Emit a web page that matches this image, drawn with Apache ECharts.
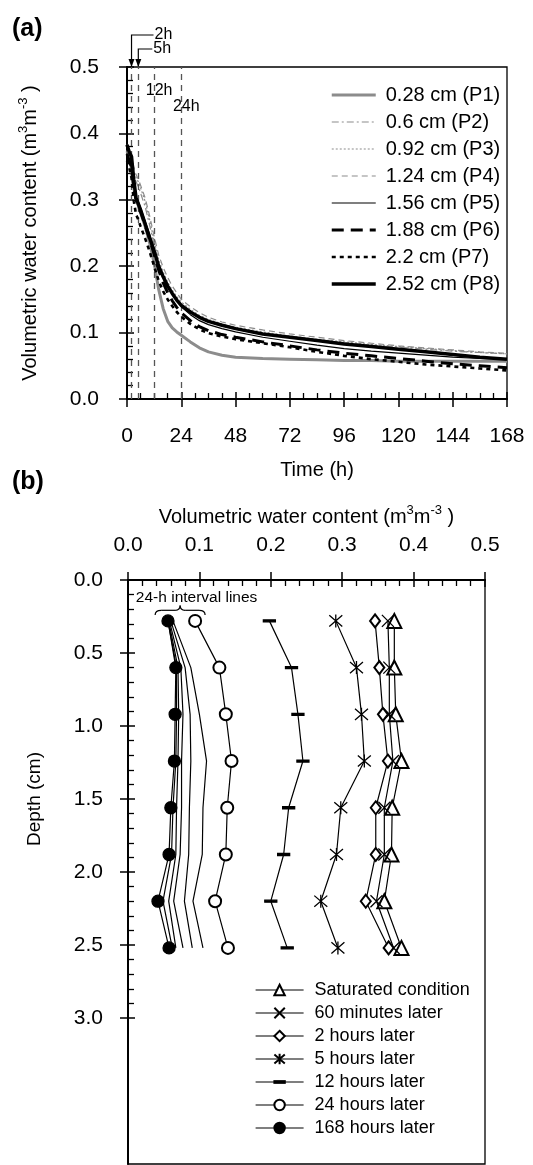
<!DOCTYPE html>
<html><head><meta charset="utf-8">
<script src="https://cdn.jsdelivr.net/npm/echarts@6/dist/echarts.min.js"></script>
<style>html,body{margin:0;padding:0;background:#fff}#c{width:533px;height:1165px}</style>
</head><body><div id="c"></div><script>
const FONT = "'Liberation Sans', Arial, sans-serif";

// ---------- Panel (a): water content vs time ----------
const hours = [0,1,2,3,4,5,6,8,10,12,14,16,18,20,22,24,28,32,36,42,48,60,72,84,96,108,120,132,144,156,168];
const probeNames = ['0.28 cm (P1)','0.6 cm (P2)','0.92 cm (P3)','1.24 cm (P4)','1.56 cm (P5)','1.88 cm (P6)','2.2 cm (P7)','2.52 cm (P8)'];
const p1 = [0.373,0.364,0.346,0.318,0.300,0.291,0.280,0.260,0.235,0.205,0.165,0.136,0.117,0.107,0.101,0.096,0.086,0.077,0.071,0.066,0.063,0.061,0.060,0.059,0.058,0.058,0.057,0.057,0.057,0.057,0.057];
const p2 = [0.373,0.366,0.352,0.338,0.327,0.320,0.310,0.290,0.262,0.232,0.205,0.186,0.171,0.160,0.151,0.143,0.132,0.123,0.117,0.111,0.106,0.099,0.094,0.089,0.085,0.081,0.078,0.075,0.072,0.070,0.068];
const p3 = [0.375,0.366,0.357,0.343,0.334,0.327,0.318,0.298,0.270,0.238,0.210,0.191,0.176,0.164,0.154,0.146,0.135,0.126,0.120,0.113,0.108,0.101,0.095,0.090,0.086,0.082,0.079,0.076,0.073,0.070,0.068];
const p4 = [0.383,0.371,0.364,0.349,0.338,0.331,0.322,0.303,0.276,0.245,0.217,0.198,0.183,0.170,0.160,0.150,0.139,0.130,0.123,0.116,0.111,0.104,0.098,0.093,0.088,0.084,0.080,0.077,0.074,0.071,0.069];
const p5 = [0.370,0.359,0.347,0.320,0.305,0.298,0.288,0.268,0.248,0.225,0.202,0.184,0.170,0.158,0.148,0.139,0.127,0.118,0.112,0.106,0.101,0.093,0.087,0.081,0.076,0.072,0.069,0.066,0.063,0.061,0.060];
const p6 = [0.369,0.359,0.347,0.318,0.300,0.292,0.282,0.262,0.241,0.218,0.194,0.175,0.160,0.148,0.138,0.130,0.118,0.109,0.103,0.097,0.093,0.086,0.080,0.074,0.069,0.065,0.061,0.057,0.053,0.050,0.047];
const p7 = [0.359,0.348,0.333,0.298,0.278,0.270,0.260,0.242,0.222,0.200,0.178,0.162,0.150,0.140,0.131,0.124,0.113,0.105,0.099,0.094,0.090,0.084,0.078,0.071,0.065,0.060,0.056,0.052,0.049,0.046,0.043];
const p8 = [0.383,0.372,0.365,0.330,0.303,0.294,0.285,0.264,0.243,0.223,0.200,0.184,0.170,0.159,0.149,0.141,0.131,0.123,0.117,0.111,0.106,0.098,0.093,0.088,0.083,0.079,0.075,0.071,0.067,0.063,0.060];
const probeValues = [p1,p2,p3,p4,p5,p6,p7,p8];
const markerHours = [2, 5, 12, 24];
const markerLabels = ['2h', '5h', '12h', '24h'];

// ---------- Panel (b): water-content profiles ----------
const depths = [0.28, 0.6, 0.92, 1.24, 1.56, 1.88, 2.2, 2.52];
const profileNames = ['Saturated condition','60 minutes later','2 hours later','5 hours later','12 hours later','24 hours later','168 hours later'];
const satVals  = [0.373,0.373,0.375,0.383,0.370,0.369,0.359,0.383];
const m60Vals  = [0.364,0.366,0.366,0.371,0.359,0.359,0.348,0.372];
const h2Vals   = [0.346,0.352,0.357,0.364,0.347,0.347,0.333,0.365];
const h5Vals   = [0.291,0.320,0.327,0.331,0.298,0.292,0.270,0.294];
const h12Vals  = [0.198,0.229,0.238,0.245,0.225,0.218,0.200,0.223];
const h24Vals  = [0.094,0.128,0.137,0.145,0.139,0.137,0.122,0.140];
const h48Vals  = [0.063,0.088,0.100,0.110,0.105,0.104,0.091,0.105];
const h72Vals  = [0.060,0.080,0.087,0.088,0.086,0.085,0.079,0.090];
const h96Vals  = [0.058,0.074,0.077,0.075,0.075,0.073,0.064,0.077];
const h120Vals = [0.057,0.070,0.071,0.070,0.068,0.067,0.057,0.067];
const h144Vals = [0.056,0.068,0.068,0.067,0.063,0.061,0.049,0.062];
const h168Vals = [0.056,0.067,0.066,0.065,0.060,0.0575,0.042,0.0575];
const intervalVals = [h48Vals, h72Vals, h96Vals, h120Vals, h144Vals];
const intervalNote = '24-h interval lines';

// ---------- styles ----------
const BLACK = '#000', GRAY = '#8c8c8c';
const probeStyles = [
  {color: GRAY, width: 3, type: 'solid'},
  {color: GRAY, width: 1.2, type: [7,3,2,3]},
  {color: GRAY, width: 1.2, type: [2,2]},
  {color: GRAY, width: 1.2, type: [6,4]},
  {color: BLACK, width: 1.2, type: 'solid'},
  {color: BLACK, width: 3, type: [12,7]},
  {color: BLACK, width: 2.6, type: [4,4]},
  {color: BLACK, width: 3.5, type: 'solid'}
];
const profileSymbols = [
  {symbol: 'emptyTriangle', size: 14},
  {symbol: 'path://M0,0L12,12M0,12L12,0', size: 12},
  {symbol: 'emptyDiamond', size: [10, 13]},
  {symbol: 'path://M0,0L12,12M0,12L12,0M6,-1L6,13', size: 13},
  {symbol: 'path://M0,0M12,12M0,5H12V7H0Z', size: 12},
  {symbol: 'emptyCircle', size: 12},
  {symbol: 'circle', size: 12}
];
const profileVals = [satVals, m60Vals, h2Vals, h5Vals, h12Vals, h24Vals, h168Vals];

const tickFont = {fontSize: 21, fontFamily: FONT, color: BLACK};
const nameFont = {fontSize: 20, fontFamily: FONT, color: BLACK, lineHeight: 26,
  rich: {sup: {fontSize: 13, fontFamily: FONT, color: BLACK, verticalAlign: 'top', lineHeight: 14}}};
const lineAx = {show: true, lineStyle: {color: BLACK, width: 2}};
const outTick = {show: true, inside: false, length: 8, lineStyle: {color: BLACK, width: 1.5}};
const inTick = {show: true, inside: true, length: 7, lineStyle: {color: BLACK, width: 1.5}};
const minor = n => ({show: true, splitNumber: n, length: 6, lineStyle: {color: BLACK, width: 1.3}});
const off = {show: false};

const chart = echarts.init(document.getElementById('c'), null, {renderer: 'canvas'});

const series = [];
probeValues.forEach((vals, i) => {
  const s = {
    name: probeNames[i], type: 'line', xAxisIndex: 0, yAxisIndex: 0,
    data: hours.map((t, k) => [t, vals[k]]),
    symbol: 'none', showSymbol: false, silent: true, z: 3 + i,
    lineStyle: {color: probeStyles[i].color, width: probeStyles[i].width, type: probeStyles[i].type},
    itemStyle: {color: probeStyles[i].color}
  };
  if (i === 0) {
    s.markLine = {
      silent: true, symbol: ['none', 'none'], label: {show: false}, animation: false,
      lineStyle: {color: '#555', width: 1.3, type: [6, 5]},
      data: markerHours.map(h => ({xAxis: h}))
    };
  }
  series.push(s);
});
intervalVals.forEach((vals) => {
  series.push({
    type: 'line', xAxisIndex: 2, yAxisIndex: 2, silent: true, symbol: 'none',
    data: vals.map((v, k) => [v, depths[k]]),
    lineStyle: {color: BLACK, width: 1.2}, z: 2
  });
});
profileVals.forEach((vals, i) => {
  series.push({
    name: profileNames[i], type: 'line', xAxisIndex: 2, yAxisIndex: 2, silent: true,
    data: vals.map((v, k) => [v, depths[k]]),
    symbol: profileSymbols[i].symbol, symbolSize: profileSymbols[i].size, showSymbol: true,
    lineStyle: {color: BLACK, width: 1.2},
    itemStyle: {color: BLACK, borderColor: BLACK, borderWidth: 1.3},
    z: 5
  });
});

const option = {
  animation: false,
  backgroundColor: '#fff',
  grid: [
    {left: 127, top: 67, width: 380, height: 332, show: true, borderColor: BLACK, borderWidth: 1.3, backgroundColor: 'transparent'},
    {left: 128, top: 580, width: 357, height: 438},
    {left: 128, top: 580, width: 357, height: 584, show: true, borderColor: BLACK, borderWidth: 1.3, backgroundColor: 'transparent'}
  ],
  xAxis: [
    {gridIndex: 0, type: 'value', position: 'bottom', min: 0, max: 168, interval: 24,
     axisLine: lineAx, axisTick: outTick, splitLine: off,
     axisLabel: Object.assign({margin: 27}, tickFont),
     name: 'Time (h)', nameLocation: 'middle', nameGap: 58, nameTextStyle: nameFont},
    {gridIndex: 0, type: 'value', position: 'bottom', min: 0, max: 168, interval: 24,
     axisLine: off, axisTick: inTick, minorTick: minor(4), axisLabel: off, splitLine: off},
    {gridIndex: 1, type: 'value', position: 'top', min: 0, max: 0.5, interval: 0.1,
     axisLine: lineAx, axisTick: outTick, splitLine: off,
     axisLabel: Object.assign({margin: 24, formatter: v => v.toFixed(1)}, tickFont),
     name: 'Volumetric water content (m{sup|3}m{sup|-3} )', nameLocation: 'middle', nameGap: 50, nameTextStyle: nameFont},
    {gridIndex: 1, type: 'value', position: 'top', min: 0, max: 0.5, interval: 0.1,
     axisLine: off, axisTick: inTick, minorTick: minor(5), axisLabel: off, splitLine: off},
    {gridIndex: 2, type: 'value', show: false, min: 0, max: 1}
  ],
  yAxis: [
    {gridIndex: 0, type: 'value', position: 'left', min: 0, max: 0.5, interval: 0.1,
     axisLine: lineAx, axisTick: outTick, splitLine: off,
     axisLabel: Object.assign({margin: 28, formatter: v => v.toFixed(1)}, tickFont),
     name: 'Volumetric water content (m{sup|3}m{sup|-3} )', nameLocation: 'middle', nameGap: 84, nameTextStyle: nameFont},
    {gridIndex: 0, type: 'value', position: 'left', min: 0, max: 0.5, interval: 0.1,
     axisLine: off, axisTick: inTick, minorTick: minor(5), axisLabel: off, splitLine: off},
    {gridIndex: 1, type: 'value', position: 'left', inverse: true, min: 0, max: 3, interval: 0.5,
     axisLine: lineAx, axisTick: outTick, splitLine: off,
     axisLabel: Object.assign({margin: 25, formatter: v => v.toFixed(1)}, tickFont),
     name: 'Depth (cm)', nameLocation: 'middle', nameGap: 84, nameTextStyle: {fontSize: 19, fontFamily: FONT, color: BLACK}},
    {gridIndex: 1, type: 'value', position: 'left', inverse: true, min: 0, max: 3, interval: 0.5,
     axisLine: off, axisTick: inTick, minorTick: minor(5), axisLabel: off, splitLine: off},
    {gridIndex: 2, type: 'value', position: 'left', min: 0, max: 1,
     axisLine: lineAx, axisTick: off, axisLabel: off, splitLine: off}
  ],
  legend: [
    {data: probeNames, orient: 'vertical', left: 325, top: 80, itemWidth: 44, itemHeight: 14, itemGap: 7,
     selectedMode: false, itemStyle: {opacity: 0}, lineStyle: {width: 'inherit'},
     textStyle: {fontSize: 20, fontFamily: FONT, color: BLACK, lineHeight: 20, padding: [0, 0, 0, 5]}},
    {data: profileNames, orient: 'vertical', left: 250, top: 976, itemWidth: 48, itemHeight: 13, itemGap: 5,
     selectedMode: false, lineStyle: {width: 'inherit'},
     textStyle: {fontSize: 18, fontFamily: FONT, color: BLACK, lineHeight: 18, padding: [0, 0, 0, 6]}}
  ],
  series: series
};
chart.setOption(option);

// ---------- annotations (placed from data coordinates) ----------
const g = [];
const P = (x, y) => chart.convertToPixel({gridIndex: 0}, [x, y]);
const Q = (x, y) => chart.convertToPixel({gridIndex: 1}, [x, y]);
const ink = {stroke: BLACK, lineWidth: 1.2, fill: null};
// 2h and 5h arrows above the plot
[[0, 32, 22], [1, 18, 14]].forEach(([k, rise, run]) => {
  const [x, y] = P(markerHours[k], 0.5);
  g.push({type: 'polyline', silent: true, z: 50, shape: {points: [[x, y - 1], [x, y - rise], [x + run, y - rise]]}, style: ink});
  g.push({type: 'polygon', silent: true, z: 50, shape: {points: [[x - 3, y - 8], [x + 3, y - 8], [x, y]]}, style: {fill: BLACK}});
  g.push({type: 'text', silent: true, z: 50, x: x + run + 1, y: y - rise,
          style: {text: markerLabels[k], fontSize: 16, fontFamily: FONT, fill: BLACK, verticalAlign: 'middle', align: 'left'}});
});
// 12h and 24h labels inside the plot
[[2, 0.465], [3, 0.440]].forEach(([k, v]) => {
  const [x, y] = P(markerHours[k], v);
  g.push({type: 'text', silent: true, z: 50, x: x + 5, y: y,
          style: {text: markerLabels[k], fontSize: 16, fontFamily: FONT, fill: BLACK, verticalAlign: 'middle', align: 'center'}});
});
// 24-h interval note and brace
{
  const [tx, ty] = Q(0.011, 0.12);
  g.push({type: 'text', silent: true, z: 50, x: tx, y: ty,
          style: {text: intervalNote, fontSize: 15.5, fontFamily: FONT, fill: BLACK, verticalAlign: 'middle', align: 'left'}});
  const [x1, yb] = Q(0.038, 0.24);
  const [x2] = Q(0.108, 0.24);
  const [, yt] = Q(0.038, 0.175);
  const xm = (x1 + x2) / 2, ym = (yb + yt) / 2;
  const curve = (a, b, c) => ({type: 'bezierCurve', silent: true, z: 50,
    shape: {x1: a[0], y1: a[1], x2: b[0], y2: b[1], cpx1: c[0], cpy1: c[1]}, style: ink});
  g.push(curve([x1, yb], [x1 + 6, ym], [x1, ym]));
  g.push({type: 'line', silent: true, z: 50, shape: {x1: x1 + 6, y1: ym, x2: xm - 5, y2: ym}, style: ink});
  g.push(curve([xm - 5, ym], [xm, yt], [xm, ym]));
  g.push(curve([xm, yt], [xm + 5, ym], [xm, ym]));
  g.push({type: 'line', silent: true, z: 50, shape: {x1: xm + 5, y1: ym, x2: x2 - 6, y2: ym}, style: ink});
  g.push(curve([x2 - 6, ym], [x2, yb], [x2, ym]));
}
// panel letters
g.push({type: 'text', silent: true, x: 12, y: 17, style: {text: '(a)', fontSize: 25, fontWeight: 'bold', fontFamily: FONT, fill: BLACK}});
g.push({type: 'text', silent: true, x: 12, y: 470, style: {text: '(b)', fontSize: 25, fontWeight: 'bold', fontFamily: FONT, fill: BLACK}});
chart.setOption({graphic: g});
</script></body></html>
